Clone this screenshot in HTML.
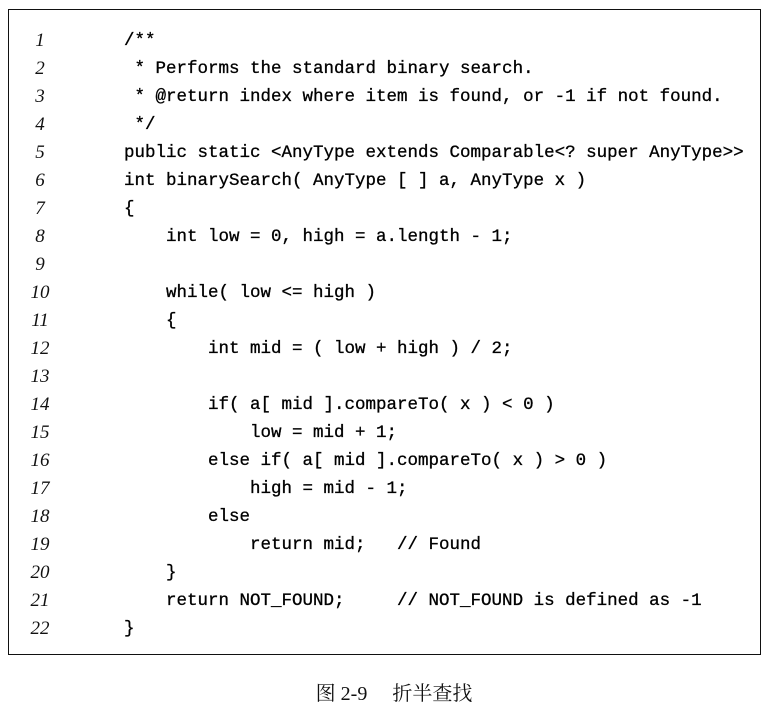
<!DOCTYPE html>
<html><head><meta charset="utf-8"><style>
body{margin:0;width:776px;height:711px;background:#fff;position:relative;overflow:hidden}
.box{position:absolute;left:8px;top:9px;width:751px;height:644px;border:1.6px solid #111}
.n{position:absolute;left:20px;width:40px;text-align:center;font:italic 19px "Liberation Serif",serif;color:#111}
.c{position:absolute;left:124px;font:17.5px "Liberation Mono",monospace;color:#000;white-space:pre;-webkit-text-stroke:0.3px #000}
.cap{position:absolute;left:0;width:776px;top:677px;text-align:center;font:20px "Liberation Serif","Noto Serif CJK SC",serif;color:#111;white-space:pre;padding-left:6px}
.ls>div{margin-top:2px}
</style></head><body>
<div class="box"></div>
<div style="position:absolute;left:0;top:2px;width:776px;height:700px">
<div class="n" style="top:28px">1</div><div class="c" style="top:29px">/**</div>
<div class="n" style="top:56px">2</div><div class="c" style="top:57px"> * Performs the standard binary search.</div>
<div class="n" style="top:84px">3</div><div class="c" style="top:85px"> * @return index where item is found, or -1 if not found.</div>
<div class="n" style="top:112px">4</div><div class="c" style="top:113px"> */</div>
<div class="n" style="top:140px">5</div><div class="c" style="top:141px">public static &lt;AnyType extends Comparable&lt;? super AnyType&gt;&gt;</div>
<div class="n" style="top:168px">6</div><div class="c" style="top:169px">int binarySearch( AnyType [ ] a, AnyType x )</div>
<div class="n" style="top:196px">7</div><div class="c" style="top:197px">{</div>
<div class="n" style="top:224px">8</div><div class="c" style="top:225px">    int low = 0, high = a.length - 1;</div>
<div class="n" style="top:252px">9</div>
<div class="n" style="top:280px">10</div><div class="c" style="top:281px">    while( low &lt;= high )</div>
<div class="n" style="top:308px">11</div><div class="c" style="top:309px">    {</div>
<div class="n" style="top:336px">12</div><div class="c" style="top:337px">        int mid = ( low + high ) / 2;</div>
<div class="n" style="top:364px">13</div>
<div class="n" style="top:392px">14</div><div class="c" style="top:393px">        if( a[ mid ].compareTo( x ) &lt; 0 )</div>
<div class="n" style="top:420px">15</div><div class="c" style="top:421px">            low = mid + 1;</div>
<div class="n" style="top:448px">16</div><div class="c" style="top:449px">        else if( a[ mid ].compareTo( x ) &gt; 0 )</div>
<div class="n" style="top:476px">17</div><div class="c" style="top:477px">            high = mid - 1;</div>
<div class="n" style="top:504px">18</div><div class="c" style="top:505px">        else</div>
<div class="n" style="top:532px">19</div><div class="c" style="top:533px">            return mid;   // Found</div>
<div class="n" style="top:560px">20</div><div class="c" style="top:561px">    }</div>
<div class="n" style="top:588px">21</div><div class="c" style="top:589px">    return NOT_FOUND;     // NOT_FOUND is defined as -1</div>
<div class="n" style="top:616px">22</div><div class="c" style="top:617px">}</div>
</div>
<div class="cap">图 2-9&nbsp;&nbsp;&nbsp;&nbsp;&nbsp;折半查找</div>
</body></html>
